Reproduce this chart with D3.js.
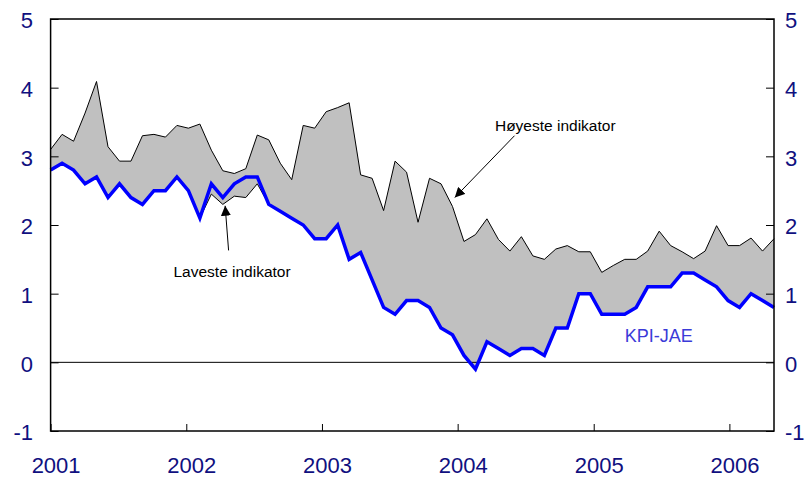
<!DOCTYPE html>
<html>
<head>
<meta charset="utf-8">
<script src="https://cdn.jsdelivr.net/npm/d3@7"></script>
<style>
	body { margin: 0; background: #fff; }
	text { font-family: "Liberation Sans", Arial, sans-serif; }
</style>
</head>
<body>
<div id="chart-div"></div>
<script>
//Data, monthly Jan 2001 - Apr 2006

	//KPI-JAE
	var kpiJae = [2.8, 2.9, 2.8, 2.6, 2.7, 2.4, 2.6, 2.4, 2.3, 2.5, 2.5, 2.7,
		2.5, 2.1, 2.6, 2.4, 2.6, 2.7, 2.7, 2.3, 2.2, 2.1, 2.0, 1.8,
		1.8, 2.0, 1.5, 1.6, 1.2, 0.8, 0.7, 0.9, 0.9, 0.8, 0.5, 0.4,
		0.1, -0.1, 0.3, 0.2, 0.1, 0.2, 0.2, 0.1, 0.5, 0.5, 1.0, 1.0,
		0.7, 0.7, 0.7, 0.8, 1.1, 1.1, 1.1, 1.3, 1.3, 1.2, 1.1, 0.9,
		0.8, 1.0, 0.9, 0.8];

	//Høyeste indikator
	var highest = [3.1, 3.32, 3.22, 3.63, 4.09, 3.14, 2.93, 2.93, 3.3, 3.32, 3.28, 3.45,
		3.41, 3.47, 3.09, 2.79, 2.75, 2.82, 3.31, 3.24, 2.9, 2.66, 3.45, 3.41,
		3.65, 3.71, 3.78, 2.73, 2.68, 2.21, 2.93, 2.77, 2.04, 2.68, 2.6, 2.27,
		1.76, 1.86, 2.09, 1.79, 1.62, 1.83, 1.55, 1.5, 1.65, 1.7, 1.61, 1.61,
		1.31, 1.41, 1.5, 1.5, 1.62, 1.91, 1.7, 1.61, 1.51, 1.62, 1.99, 1.7,
		1.7, 1.81, 1.62, 1.8];

	//Laveste indikator
	var lowest = [2.8, 2.9, 2.8, 2.6, 2.7, 2.4, 2.6, 2.4, 2.3, 2.5, 2.5, 2.7,
		2.5, 2.1, 2.45, 2.3, 2.42, 2.4, 2.6, 2.3, 2.2, 2.1, 2.0, 1.8,
		1.8, 2.0, 1.5, 1.6, 1.2, 0.8, 0.7, 0.9, 0.9, 0.8, 0.5, 0.4,
		0.1, -0.1, 0.3, 0.2, 0.1, 0.2, 0.2, 0.1, 0.5, 0.5, 1.0, 1.0,
		0.7, 0.7, 0.7, 0.8, 1.1, 1.1, 1.1, 1.3, 1.3, 1.2, 1.1, 0.9,
		0.8, 1.0, 0.9, 0.8];

	var yearTicks = [2001, 2002, 2003, 2004, 2005, 2006];
	var yTicks = [-1, 0, 1, 2, 3, 4, 5];

//Canvas
	var margin = {top: 19, right: 33, bottom: 49, left: 50.6},
		W = 807, H = 480,
		w = W - margin.left - margin.right,
		h = H - margin.top - margin.bottom;

	var svg = d3.select("#chart-div").append("svg")
		.attr("width", W)
		.attr("height", H)
			.append("g")
			.attr("transform", "translate(" + margin.left + "," + margin.top + ")");

	//Scales
	var x = d3.scaleLinear().domain([0, kpiJae.length - 1]).range([0, w]);
	var xTime = d3.scaleTime()
		.domain([new Date(2001, 0, 1), new Date(2006, 4, 1)])
		.range([0, w]);
	var y = d3.scaleLinear().domain([-1, 5]).range([h, 0]);

	//Band between highest and lowest indicator
	var band = d3.area()
		.x(function(d, i) { return x(i); })
		.y0(function(d, i) { return y(lowest[i]); })
		.y1(function(d) { return y(d); });

	svg.append("path")
		.datum(highest)
		.attr("fill", "#c0c0c0")
		.attr("d", band);

	var line = d3.line()
		.x(function(d, i) { return x(i); })
		.y(function(d) { return y(d); });

	svg.append("path").datum(highest)
		.attr("fill", "none").attr("stroke", "#000").attr("stroke-width", 1)
		.attr("d", line);
	svg.append("path").datum(lowest)
		.attr("fill", "none").attr("stroke", "#000").attr("stroke-width", 1)
		.attr("d", line);

	//Zero line
	svg.append("line")
		.attr("x1", 0).attr("x2", w)
		.attr("y1", y(0)).attr("y2", y(0))
		.attr("stroke", "#000").attr("stroke-width", 1);

	//KPI-JAE line
	svg.append("path").datum(kpiJae)
		.attr("fill", "none").attr("stroke", "#0000ff").attr("stroke-width", 3.5)
		.attr("stroke-linejoin", "miter")
		.attr("d", line);

	//Axes
	var axisColor = "#10107f";
	var plainNum = function(d) { return String(d); };  //hyphen minus, as in the original

	var xAxis = svg.append("g")
		.attr("transform", "translate(0," + h + ")")
		.call(d3.axisBottom(xTime)
			.tickValues(yearTicks.map(function(yr) { return new Date(yr, 0, 1); }))
			.tickFormat(d3.timeFormat("%Y"))
			.tickSize(-7)
			.tickPadding(26));
	xAxis.selectAll("text").attr("dx", 5);

	var yLeft = svg.append("g")
		.call(d3.axisLeft(y).tickValues(yTicks).tickFormat(plainNum)
			.tickSize(-8).tickPadding(17.6));
	var yRight = svg.append("g")
		.attr("transform", "translate(" + w + ",0)")
		.call(d3.axisRight(y).tickValues(yTicks).tickFormat(plainNum)
			.tickSize(-8).tickPadding(11));

	[xAxis, yLeft, yRight].forEach(function(g) {
		g.select(".domain").remove();
		g.selectAll("line").attr("stroke", "#000");
		g.selectAll("text")
			.attr("fill", axisColor)
			.style("font-size", "22px");
	});
	yLeft.selectAll("text").attr("dy", "0.4em");
	yRight.selectAll("text").attr("dy", "0.4em");

	//Frame
	svg.append("rect")
		.attr("width", w).attr("height", h)
		.attr("fill", "none").attr("stroke", "#000").attr("stroke-width", 1.5);

	//Annotations
	svg.append("defs").append("marker")
		.attr("id", "arrow")
		.attr("viewBox", "0 0 10 10")
		.attr("refX", 10).attr("refY", 5)
		.attr("markerWidth", 10).attr("markerHeight", 10)
		.attr("markerUnits", "userSpaceOnUse")
		.attr("orient", "auto")
		.append("path").attr("d", "M0,0L10,5L0,10z").attr("fill", "#000");

	svg.append("line")
		.attr("x1", x(40.4)).attr("y1", y(3.3))
		.attr("x2", x(35.2)).attr("y2", y(2.4))
		.attr("stroke", "#000").attr("marker-end", "url(#arrow)");
	svg.append("text")
		.attr("x", x(38.7)).attr("y", y(3.37))
		.style("font-size", "15.5px")
		.text("Høyeste indikator");

	svg.append("line")
		.attr("x1", x(15.5)).attr("y1", y(1.63))
		.attr("x2", x(15.2)).attr("y2", y(2.28))
		.attr("stroke", "#000").attr("marker-end", "url(#arrow)");
	svg.append("text")
		.attr("x", x(10.7)).attr("y", y(1.25))
		.style("font-size", "15.5px")
		.text("Laveste indikator");

	svg.append("text")
		.attr("x", x(50)).attr("y", y(0.3))
		.attr("fill", "#3a3ad8")
		.style("font-size", "18px")
		.text("KPI-JAE");
</script>
</body>
</html>
